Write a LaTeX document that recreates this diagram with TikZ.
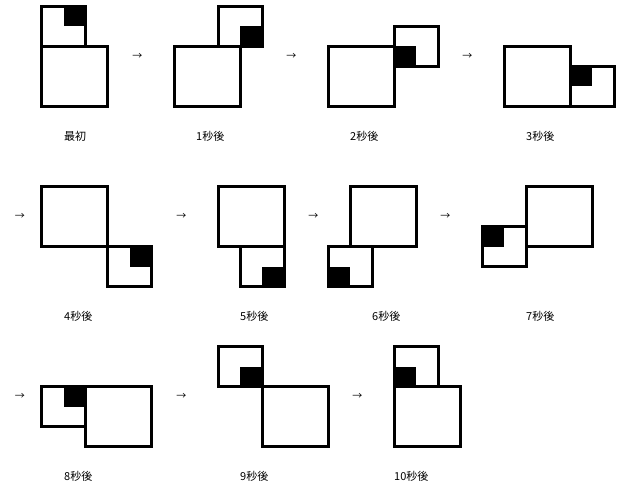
\documentclass[tikz,border=0pt]{standalone}
\usepackage{fontspec}
\newfontfamily\jpfont{Noto Sans CJK JP}
\tikzset{
	sq/.style={line width=3pt},
	blk/.style={fill=black},
	lbl/.style={anchor=west,inner sep=0pt,font=\jpfont\fontsize{11}{13}\selectfont},
	arr/.style={inner sep=0pt,font=\jpfont\fontsize{10}{12}\selectfont},
}
\begin{document}
\begin{tikzpicture}[x=22pt,y=-20pt]
		\useasboundingbox (-1.909,-0.325) rectangle (26.409,23.975);
		% row 1
		\fill[blk] (1,0) rectangle (2,1);
		\draw[sq] (0,0) rectangle (2,2);
		\draw[sq] (0,2) rectangle (3,5);
		\node[lbl] (l0) at (1,6.5) {最初};
		\node[arr] (a1) at (4.33,2.5) {→};
		\fill[blk] (9,1) rectangle (10,2);
		\draw[sq] (8,0) rectangle (10,2);
		\draw[sq] (6,2) rectangle (9,5);
		\node[lbl] (l1) at (7,6.5) {1秒後};
		\node[arr] (a2) at (11.33,2.5) {→};
		\fill[blk] (16,2) rectangle (17,3);
		\draw[sq] (16,1) rectangle (18,3);
		\draw[sq] (13,2) rectangle (16,5);
		\node[lbl] (l2) at (14,6.5) {2秒後};
		\node[arr] (a3) at (19.33,2.5) {→};
		\fill[blk] (24,3) rectangle (25,4);
		\draw[sq] (24,3) rectangle (26,5);
		\draw[sq] (21,2) rectangle (24,5);
		\node[lbl] (l3) at (22,6.5) {3秒後};
		% row 2
		\node[arr] (a4) at (-1,10.5) {→};
		\fill[blk] (4,12) rectangle (5,13);
		\draw[sq] (3,12) rectangle (5,14);
		\draw[sq] (0,9) rectangle (3,12);
		\node[lbl] (l4) at (1,15.5) {4秒後};
		\node[arr] (a5) at (6.33,10.5) {→};
		\fill[blk] (10,13) rectangle (11,14);
		\draw[sq] (9,12) rectangle (11,14);
		\draw[sq] (8,9) rectangle (11,12);
		\node[lbl] (l5) at (9,15.5) {5秒後};
		\node[arr] (a6) at (12.33,10.5) {→};
		\fill[blk] (13,13) rectangle (14,14);
		\draw[sq] (13,12) rectangle (15,14);
		\draw[sq] (14,9) rectangle (17,12);
		\node[lbl] (l6) at (15,15.5) {6秒後};
		\node[arr] (a7) at (18.33,10.5) {→};
		\fill[blk] (20,11) rectangle (21,12);
		\draw[sq] (20,11) rectangle (22,13);
		\draw[sq] (22,9) rectangle (25,12);
		\node[lbl] (l7) at (22,15.5) {7秒後};
		% row 3
		\node[arr] (a8) at (-1,19.5) {→};
		\fill[blk] (1,19) rectangle (2,20);
		\draw[sq] (0,19) rectangle (2,21);
		\draw[sq] (2,19) rectangle (5,22);
		\node[lbl] (l8) at (1,23.5) {8秒後};
		\node[arr] (a9) at (6.33,19.5) {→};
		\fill[blk] (9,18) rectangle (10,19);
		\draw[sq] (8,17) rectangle (10,19);
		\draw[sq] (10,19) rectangle (13,22);
		\node[lbl] (l9) at (9,23.5) {9秒後};
		\node[arr] (a10) at (14.33,19.5) {→};
		\fill[blk] (16,18) rectangle (17,19);
		\draw[sq] (16,17) rectangle (18,19);
		\draw[sq] (16,19) rectangle (19,22);
		\node[lbl] (l10) at (16,23.5) {10秒後};
	\end{tikzpicture}
\end{document}
